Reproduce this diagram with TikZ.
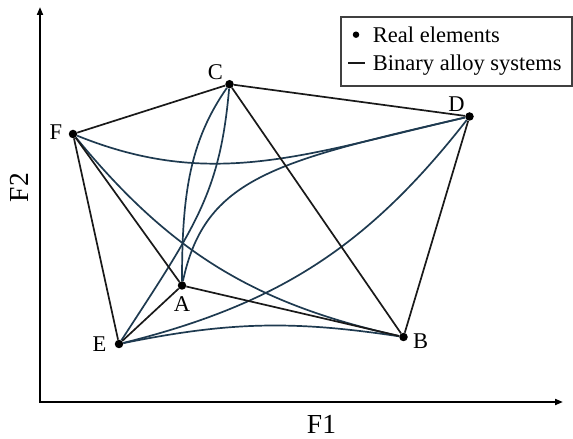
\documentclass[tikz,border=0pt]{standalone}
\usepackage{fontspec}
\setmainfont{Liberation Serif}
\usetikzlibrary{arrows.meta, positioning}

\definecolor{alloyblue}{HTML}{1E3A50}

\begin{document}
\begin{tikzpicture}[
      x=1pt, y=1pt,
      element/.style={circle, fill=black, inner sep=0pt, minimum size=8.5pt},
      lbl/.style={font=\fontsize{22.5}{27}\selectfont, inner sep=0pt},
      axlbl/.style={font=\fontsize{27.5}{32}\selectfont, inner sep=0pt},
      edge/.style={line width=1.7pt, black!90},
      alloy/.style={line width=1.7pt, alloyblue},
      axis/.style={line width=1.8pt, {Triangle[length=8pt,width=6pt]}-{Triangle[length=8pt,width=6pt]}}
    ]
    \useasboundingbox (0,0) rectangle (573,439);

    % axes
    \coordinate (origin) at (40,37);
    \coordinate (xend) at (563,37);
    \coordinate (yend) at (40,432);
    \draw[axis] (yend) -- (origin) -- (xend);
    \node[axlbl] (xlabel) at (321.5,15) {F1};
    \node[axlbl, rotate=90] (ylabel) at (19,251.5) {F2};

    % elements
    \node[element, label={[lbl, xshift=-14pt, yshift=12pt]center:C}] (C) at (229.5,354.8) {};
    \node[element, label={[lbl, xshift=-13pt, yshift=12.5pt]center:D}] (D) at (469.5,322.5) {};
    \node[element, label={[lbl, xshift=-17pt, yshift=2.3pt]center:F}] (F) at (73,305) {};
    \node[element, label={[lbl, yshift=-18.5pt]center:A}] (A) at (182,153.5) {};
    \node[element, label={[lbl, xshift=-19.6pt]center:E}] (E) at (119,95) {};
    \node[element, label={[lbl, xshift=17.2pt, yshift=-3.7pt]center:B}] (B) at (403.5,102) {};

    % binary systems
    \draw[alloy] (F) .. controls +(-22:150) and +(193:170) .. (D);
    \draw[alloy] (A) .. controls +(78:110) and +(193:200) .. (D);
    \draw[alloy] (C) .. controls +(235:70) and +(90:90) .. (A);
    \draw[alloy] (C) .. controls +(265:110) and +(57:140) .. (E);
    \draw[alloy] (E) to[bend right=19] (D);
    \draw[alloy] (F) to[bend right=19] (B);
    \draw[alloy] (E) to[bend left=10] (B);
    \foreach \a/\b in {F/C, C/D, D/B, F/E, F/A, C/B, A/B, A/E}
      \draw[edge] (\a) -- (\b);

    % legend
    \draw[line width=1.2pt, black!75] (341,422) rectangle (572,353);
    \node[element, minimum size=6.5pt] (legdot) at (356,404.3) {};
    \node[lbl, anchor=base west] (legreal) at (372.7,396.7) {Real elements};
    \coordinate (legline) at (348.3,375.7);
    \draw[edge] (legline) -- ++(16.7,0);
    \node[lbl, anchor=base west] (legalloy) at (372.7,368) {Binary alloy systems};
  \end{tikzpicture}
\end{document}
